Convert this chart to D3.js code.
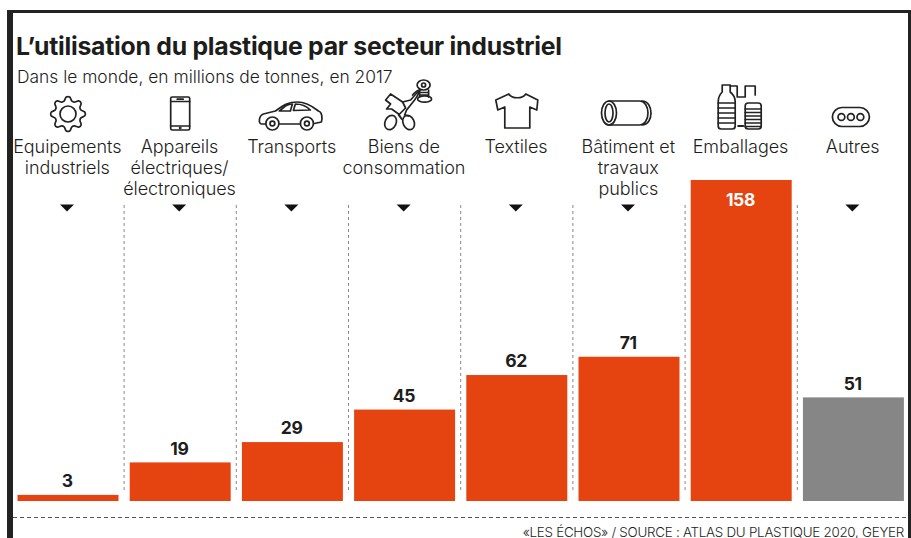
<!DOCTYPE html>
<html lang="fr">
<head>
<meta charset="utf-8">
<script src="https://cdn.jsdelivr.net/npm/d3@7/dist/d3.min.js"></script>
<style>
html,body{margin:0;padding:0;background:#fff}
svg{display:block}
text{font-family:Inter,"Liberation Sans",sans-serif;fill:#1d1d1b}
.cat{font-size:18px;font-weight:300;text-anchor:middle;letter-spacing:-.05px}
.val{font-size:17.5px;font-weight:700;text-anchor:middle;letter-spacing:-.3px}
.ico{fill:none;stroke:#222;stroke-width:1.7;stroke-linejoin:round;stroke-linecap:round}
</style>
</head>
<body>
<svg id="chart" width="911" height="538"></svg>
<script>
const sectors = ["Equipements industriels","Appareils électriques/ électroniques","Transports","Biens de consommation","Textiles","Bâtiment et travaux publics","Emballages","Autres"];
const sectorLines = [["Equipements","industriels"],["Appareils","électriques/","électroniques"],["Transports"],["Biens de","consommation"],["Textiles"],["Bâtiment et","travaux","publics"],["Emballages"],["Autres"]];
const tonnes = [3,19,29,45,62,71,158,51];
const barColors = ["#e5430f","#e5430f","#e5430f","#e5430f","#e5430f","#e5430f","#e5430f","#868686"];
const titleText = "L’utilisation du plastique par secteur industriel";
const subtitleText = "Dans le monde, en millions de tonnes, en 2017";
const sourceText = "«LES ÉCHOS» / SOURCE : ATLAS DU PLASTIQUE 2020, GEYER";

const svg = d3.select("#chart");
const x = d3.scaleBand().domain(sectors).range([11.9,909.5]).paddingInner(0.1).paddingOuter(0.05);
const y = d3.scaleLinear().domain([0,158]).range([501,180]);

// page frame: heavy left rule, thin top and right rules
svg.append("rect").attr("x",7).attr("y",10).attr("width",6).attr("height",528).attr("fill","#222");
svg.append("rect").attr("x",7).attr("y",10).attr("width",904).attr("height",3).attr("fill","#222");
svg.append("rect").attr("x",908).attr("y",10).attr("width",3).attr("height",528).attr("fill","#222");

svg.append("text").attr("x",16).attr("y",55).attr("font-size",24.8).attr("font-weight",700).attr("letter-spacing",-0.25).text(titleText);
svg.append("text").attr("x",17).attr("y",83).attr("font-size",17.4).attr("font-weight",300).text(subtitleText);

// dotted separators between the columns
const seps = sectors.slice(1);
svg.selectAll("line.sep").data(seps).join("line").attr("class","sep")
  .attr("x1",d=>x(d)-x.step()*0.05).attr("x2",d=>x(d)-x.step()*0.05)
  .attr("y1",205).attr("y2",492)
  .attr("stroke","#888").attr("stroke-width",1).attr("stroke-dasharray","3 3");

// bars
svg.selectAll("rect.bar").data(sectors).join("rect").attr("class","bar")
  .attr("x",d=>x(d)).attr("width",x.bandwidth())
  .attr("y",(d,i)=>y(tonnes[i])).attr("height",(d,i)=>y(0)-y(tonnes[i]))
  .attr("fill",(d,i)=>barColors[i]);

// value labels: the tallest bar carries its label inside, in white
svg.selectAll("text.val").data(sectors).join("text").attr("class","val")
  .attr("x",d=>x(d)+x.bandwidth()/2-0.7)
  .attr("y",(d,i)=>tonnes[i]===d3.max(tonnes)?y(tonnes[i])+26:y(tonnes[i])-7.8)
  .style("fill",(d,i)=>tonnes[i]===d3.max(tonnes)?"#fff":"#1d1d1b")
  .text((d,i)=>tonnes[i]);

// category labels
sectors.forEach((s,i)=>{
  const cx = x(s)+x.bandwidth()/2-0.7;
  const t = svg.append("text").attr("class","cat").attr("x",cx);
  sectorLines[i].forEach((l,j)=>t.append("tspan").attr("x",cx).attr("y",153+j*21).text(l));
});

// pointers under the labels (the tallest bar needs none)
svg.selectAll("path.tri").data(sectors.filter((s,i)=>tonnes[i]!==d3.max(tonnes))).join("path").attr("class","tri")
  .attr("d","M-7,0H7L0,7Z")
  .attr("transform",d=>`translate(${x(d)+x.bandwidth()/2-1},204.5)`)
  .attr("fill","#111");

// footer rule and source
svg.append("line").attr("x1",13).attr("x2",908).attr("y1",517.5).attr("y2",517.5)
  .attr("stroke","#555").attr("stroke-width",1).attr("stroke-dasharray","4 3");
svg.append("text").attr("x",904).attr("y",536.5).attr("text-anchor","end").attr("font-size",13.4).attr("font-weight",300).attr("letter-spacing",-0.27).text(sourceText);

// pictograms, each drawn around its column centre
const icon = i => svg.append("g").attr("class","ico").attr("transform",`translate(${x(sectors[i])+x.bandwidth()/2},0)`);

// gear
{
  const g = icon(0), cy = 114, n = 8, pts = [];
  for(let k=0;k<n*4;k++){
    const a = (k/(n*4))*2*Math.PI - Math.PI/2 - 0.1;
    const r = (k%4===0||k%4===1)?17:13.5;
    pts.push([r*Math.cos(a),cy+r*Math.sin(a)]);
  }
  g.append("path").attr("d",d3.line().curve(d3.curveCatmullRomClosed.alpha(0.5))(pts));
  g.append("circle").attr("cx",0).attr("cy",cy).attr("r",8);
}
// phone
{
  const g = icon(1);
  g.append("rect").attr("x",-9.5).attr("y",97).attr("width",19).attr("height",33).attr("rx",1.5);
  g.append("path").attr("d","M-9.5,101.5H9.5M-9.5,126H9.5M-3,99.2H3");
  g.append("circle").attr("cx",0).attr("cy",128).attr("r",.6);
}
// car
{
  const g = icon(2);
  g.append("path").attr("d","M-27,124H-31C-34,124 -34,116 -29,114L-17,111C-10,106 -5,102 5,102C15,102 22,108 26,111C30,112 30,119 29,122L22,123.5M7,124H-13");
  g.append("path").attr("d","M-13,111L-7,106Q-3,104 0,104L-2,111ZM3,104C9,104 14,106 18,110L1,110.5Z");
  [-20,14.5].forEach(c=>{
    g.append("circle").attr("cx",c).attr("cy",123.5).attr("r",6.5);
    g.append("circle").attr("cx",c).attr("cy",123.5).attr("r",2.4);
  });
}
// scissors and thread spool
{
  const g = icon(3);
  g.append("path").attr("d","M-19,100L-14,94L-2,102L1,108L-6,115L-3,119L-6,114L-13,109L-18,109L-14,104Z");
  g.append("path").attr("d","M-2,102L6,100L13,92C16,90 14,94 10,100L2,110L0,115L4,116");
  g.append("ellipse").attr("cx",-14).attr("cy",122.5).attr("rx",5.5).attr("ry",7.5).attr("transform","rotate(25,-14,122.5)");
  g.append("ellipse").attr("cx",4).attr("cy",122.5).attr("rx",5.5).attr("ry",7.5).attr("transform","rotate(-25,4,122.5)");
  g.append("path").attr("d","M8,95C12,90 14,90 16,90");
  g.append("ellipse").attr("cx",19).attr("cy",85).attr("rx",6.5).attr("ry",5);
  g.append("circle").attr("cx",19).attr("cy",85).attr("r",2);
  g.append("path").attr("d","M15,90V97M24,90V97M15,92.5H24M15,95H24");
  g.append("ellipse").attr("cx",20).attr("cy",99).attr("rx",7).attr("ry",3.2);
}
// t-shirt
{
  const g = icon(4);
  g.append("path").attr("d","M-8,94L-21,100L-19,110L-12,107V128H13V107L20,110L21,100L9,94C6,99 -5,99 -8,94Z");
}
// pipe
{
  const g = icon(5);
  g.append("ellipse").attr("cx",-20).attr("cy",113).attr("rx",7.5).attr("ry",12);
  g.append("ellipse").attr("cx",-20).attr("cy",113).attr("rx",4).attr("ry",9);
  g.append("path").attr("d","M-20,101H10M-20,125H10M10,101C16,101 19,107 19,113C19,119 16,125 10,125M13,101C19,101 22,107 22,113C22,119 19,125 13,125");
}
// bottle, bag and cup
{
  const g = icon(6);
  g.append("path").attr("d","M-19,85H-11V92C-7,95 -6,98 -6,102V126C-6,128 -7,129 -9,129H-20C-22,129 -23,128 -23,126V102C-23,98 -22,95 -19,92Z");
  g.append("path").attr("d","M-23,103H-6M-23,108H-6M-23,113H-6M-23,118H-6M-23,123H-6");
  g.append("path").attr("d","M-11,86H-4V97H4V86H14V95");
  g.append("path").attr("d","M-3,126H2").attr("stroke-width",2);
  g.append("rect").attr("x",4).attr("y",103).attr("width",16).attr("height",26).attr("rx",3);
  g.append("path").attr("d","M4,109H20M4,112.5H20M4,116H20M4,119.5H20M4,123H20M4,126.5H20");
}
// "other" dots
{
  const g = icon(7);
  g.append("rect").attr("x",-21).attr("y",107.5).attr("width",37).attr("height",19).attr("rx",9.5);
  [-12,-2.5,7].forEach(c=>g.append("circle").attr("cx",c).attr("cy",117).attr("r",3.4));
}
</script>
</body>
</html>
